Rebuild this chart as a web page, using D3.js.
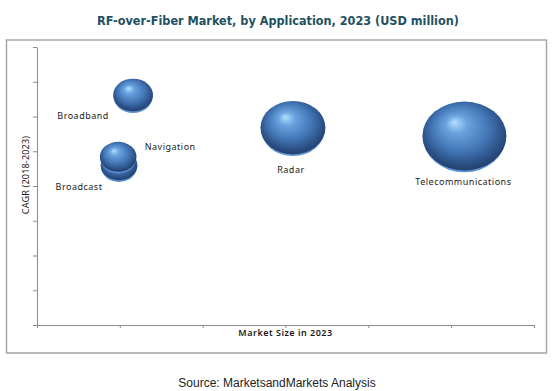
<!DOCTYPE html>
<html>
<head>
<meta charset="utf-8">
<title>RF-over-Fiber Market, by Application</title>
<script src="https://cdnjs.cloudflare.com/ajax/libs/d3/7.8.5/d3.min.js"></script>
<style>
body { margin: 0; background: #fff; }
.axis path, .axis line { stroke: #8c8c8c; }
.lbl { font-family: "Noto Sans", sans-serif; font-size: 9px; letter-spacing: 0.5px; fill: #1a1a1a; }
</style>
</head>
<body>
<div id="chart"></div>
<script>
// values
var apps = ['Broadband', 'Broadcast', 'Navigation', 'Radar', 'Telecommunications'];
var marketSize = [116, 99, 98, 309, 516];    // USD million, also bubble size
var cagr = [33.1, 23.0, 24.2, 28.4, 27.2];   // %
var xTicks = [0, 100, 200, 300, 400, 500, 600];
var yTicks = [0, 5, 10, 15, 20, 25, 30, 35, 40];

// label offsets relative to bubble centre
var labelPos = {
  'Broadband': [-50, 21], 'Broadcast': [-40, 22], 'Navigation': [52, -10],
  'Radar': [-2, 42], 'Telecommunications': [-1, 46]
};

var W = 552, H = 391;
var svg = d3.select('#chart').append('svg')
  .attr('width', W).attr('height', H);

var defs = svg.append('defs');
var grad = defs.append('radialGradient')
  .attr('id', 'ball')
  .attr('cx', '50%').attr('cy', '45%').attr('r', '58%')
  .attr('fx', '38%').attr('fy', '30%');
grad.append('stop').attr('offset', '0%').attr('stop-color', '#b4e0ff');
grad.append('stop').attr('offset', '22%').attr('stop-color', '#6aa3e0');
grad.append('stop').attr('offset', '58%').attr('stop-color', '#4376b6');
grad.append('stop').attr('offset', '84%').attr('stop-color', '#2b4f84');
grad.append('stop').attr('offset', '100%').attr('stop-color', '#1f3a62');

// title, shrunk to the reference width if needed
var title = svg.append('text')
  .attr('x', 278).attr('y', 25)
  .attr('text-anchor', 'middle')
  .style('font-family', '"Liberation Sans Narrow", "DejaVu Sans Condensed", sans-serif')
  .style('font-weight', 'bold').style('font-size', '16px')
  .style('fill', '#1f5062')
  .text('RF-over-Fiber Market, by Application, 2023 (USD million)');
var tw = title.node().getComputedTextLength();
if (tw > 0) title.style('font-size', Math.min(17, 16 * 362 / tw).toFixed(2) + 'px');

// frame
svg.append('rect')
  .attr('x', 6.5).attr('y', 40).attr('width', 540).attr('height', 313)
  .attr('fill', 'none').attr('stroke', '#a6a6a6').attr('stroke-width', 1.5);

var x = d3.scaleLinear().domain([0, 600]).range([37, 534]);
var y = d3.scaleLinear().domain([0, 40]).range([325, 47]);
var r = d3.scaleSqrt().domain([0, 516]).range([0, 42]);

svg.append('g')
  .attr('class', 'axis')
  .attr('transform', 'translate(0,325)')
  .call(d3.axisBottom(x).tickValues(xTicks).tickSize(3).tickSizeOuter(0).tickFormat(''));

svg.append('g')
  .attr('class', 'axis')
  .attr('transform', 'translate(37,0)')
  .call(d3.axisLeft(y).tickValues(yTicks).tickSize(4).tickSizeOuter(0).tickFormat(''));

svg.append('text')
  .attr('class', 'lbl')
  .attr('x', x(300)).attr('y', 336)
  .attr('text-anchor', 'middle')
  .style('font-weight', '600')
  .text('Market Size in 2023');

svg.append('text')
  .attr('class', 'lbl')
  .attr('transform', 'translate(29,175) rotate(-90)')
  .attr('text-anchor', 'middle')
  .style('letter-spacing', '0.2px')
  .text('CAGR (2018-2023)');

var data = apps.map(function(a, i) {
  return {name: a, size: marketSize[i], cagr: cagr[i]};
});

var bub = svg.append('g').selectAll('g')
  .data(data)
  .enter().append('g')
  .attr('transform', function(d) { return 'translate(' + x(d.size) + ',' + y(d.cagr) + ')'; });

// lighter rim under the bottom edge
bub.append('ellipse')
  .attr('cx', 0).attr('cy', 1.5)
  .attr('rx', function(d) { return r(d.size) * 0.98; })
  .attr('ry', function(d) { return r(d.size) * 0.83; })
  .attr('fill', '#5b8fd0');

bub.append('ellipse')
  .attr('rx', function(d) { return r(d.size); })
  .attr('ry', function(d) { return r(d.size) * 0.82; })
  .attr('fill', 'url(#ball)');

svg.append('g').selectAll('text')
  .data(data)
  .enter().append('text')
  .attr('class', 'lbl')
  .attr('text-anchor', 'middle')
  .attr('x', function(d) { return x(d.size) + labelPos[d.name][0]; })
  .attr('y', function(d) { return y(d.cagr) + labelPos[d.name][1] + 3; })
  .text(function(d) { return d.name; });

// source line
svg.append('text')
  .attr('x', 277).attr('y', 387)
  .attr('text-anchor', 'middle')
  .style('font-family', '"Liberation Sans", Arial, sans-serif')
  .style('font-size', '12px').style('fill', '#222')
  .text('Source: MarketsandMarkets Analysis');
</script>
</body>
</html>
